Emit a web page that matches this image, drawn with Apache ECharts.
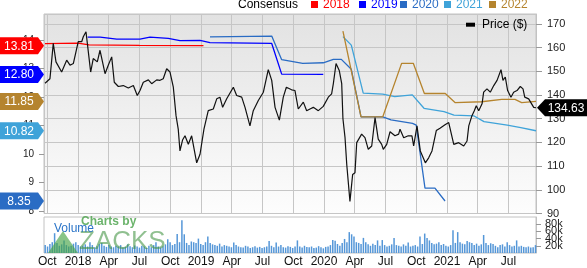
<!DOCTYPE html>
<html><head><meta charset="utf-8">
<script src="https://cdn.jsdelivr.net/npm/echarts/dist/echarts.min.js"></script>
<style>html,body{margin:0;padding:0;background:#fff}#c{width:587px;height:268px}</style>
</head><body><div id="c"></div>
<script>
// time expressed as decimal year
const xMin = 2017.7236, xMax = 2021.7236;
const priceT = [2017.732,2017.772,2017.799,2017.821,2017.867,2017.908,2017.935,2017.962,2018.002,2018.030,2018.043,2018.065,2018.076,2018.103,2018.124,2018.157,2018.179,2018.193,2018.220,2018.246,2018.274,2018.295,2018.328,2018.368,2018.409,2018.450,2018.482,2018.504,2018.531,2018.572,2018.599,2018.640,2018.667,2018.693,2018.721,2018.748,2018.775,2018.797,2018.815,2018.829,2018.850,2018.870,2018.897,2018.924,2018.965,2018.992,2019.024,2019.059,2019.100,2019.128,2019.154,2019.176,2019.209,2019.263,2019.290,2019.331,2019.358,2019.398,2019.425,2019.466,2019.507,2019.547,2019.575,2019.602,2019.637,2019.669,2019.694,2019.737,2019.764,2019.791,2019.832,2019.859,2019.886,2019.913,2019.954,2019.994,2020.035,2020.062,2020.076,2020.098,2020.124,2020.144,2020.154,2020.171,2020.185,2020.211,2020.233,2020.252,2020.266,2020.306,2020.333,2020.360,2020.388,2020.415,2020.441,2020.469,2020.482,2020.510,2020.537,2020.577,2020.607,2020.618,2020.648,2020.685,2020.715,2020.729,2020.756,2020.783,2020.824,2020.851,2020.878,2020.892,2020.913,2020.943,2020.984,2021.014,2021.055,2021.095,2021.136,2021.163,2021.177,2021.203,2021.222,2021.238,2021.258,2021.285,2021.298,2021.325,2021.352,2021.380,2021.407,2021.439,2021.455,2021.474,2021.493,2021.520,2021.542,2021.569,2021.596,2021.618,2021.632,2021.664,2021.705,2021.7236];
const priceV = [145.0,146.9,161.8,154.0,149.7,154.7,152.6,153.3,162.5,162.5,164.6,166.7,161.8,149.7,155.4,154.0,158.9,159.6,149.0,152.6,156.1,145.4,143.6,144.0,143.0,144.0,139.8,141.9,145.4,146.4,144.8,146.4,146.2,146.9,151.1,149.7,143.3,131.3,125.6,116.4,121.0,122.8,119.2,122.8,111.4,115.0,125.6,133.4,134.1,138.4,139.1,134.8,138.4,143.3,139.8,139.1,134.8,127.0,133.4,137.7,141.2,150.7,146.2,134.8,129.4,139.1,143.3,142.2,141.9,134.1,137.0,133.4,134.1,134.8,133.4,135.2,139.1,140.5,144.8,153.3,150.4,144.8,130.0,122.0,110.7,95.1,106.5,107.2,119.9,123.5,122.0,117.1,118.5,130.5,121.4,119.2,117.1,119.2,124.5,122.8,123.5,125.6,122.0,122.8,122.8,118.5,127.0,116.4,111.4,113.5,116.4,117.1,125.0,126.0,127.5,128.4,119.2,119.9,118.5,120.6,127.0,131.3,133.4,135.5,133.4,136.3,141.2,142.6,141.2,144.0,146.2,150.7,146.2,147.6,141.9,139.1,141.2,141.9,143.6,142.6,139.1,138.4,134.8,134.63];

const eps2018T = [2017.732,2018.0,2018.09,2018.5,2019.02];
const eps2018V = [13.88,13.90,13.84,13.82,13.81];
const eps2019T = [2018.079,2018.18,2018.315,2018.504,2018.585,2018.734,2018.829,2018.992,2019.073,2019.575,2019.656,2019.994];
const eps2019V = [14.11,14.11,14.04,14.04,14.11,14.07,13.99,14.00,13.92,13.89,12.81,12.80];
const eps2020T = [2019.073,2019.575,2019.656,2019.827,2019.994,2020.076,2020.141,2020.222,2020.301,2020.478,2020.545,2020.720,2020.750,2020.821,2020.902,2020.984];
const eps2020V = [14.12,14.15,13.32,13.19,13.21,13.33,13.33,12.98,11.31,11.31,11.20,11.08,11.02,8.80,8.80,8.35];
const eps2021T = [2020.154,2020.222,2020.319,2020.478,2020.575,2020.718,2020.813,2020.976,2021.057,2021.220,2021.301,2021.490,2021.600,2021.7236];
const eps2021V = [14.13,13.83,12.14,12.11,12.02,12.08,11.61,11.49,11.37,11.34,11.14,11.02,10.93,10.82];
const eps2022T = [2020.154,2020.301,2020.478,2020.631,2020.726,2020.816,2020.986,2021.065,2021.282,2021.445,2021.553,2021.607,2021.7236];
const eps2022V = [14.32,11.31,11.31,13.19,13.19,12.13,12.13,11.81,11.84,11.92,11.92,11.81,11.85];

// weekly volume (thousands of shares), weeks starting 2017-09-22
const volStart = 2017.7236;
const volK = [
22,18,25,30,55,28,20,24,35,22,18,20,26,30,22,18,
20,24,18,30,22,16,19,25,28,20,17,22,18,
16,20,18,22,15,17,24,19,16,21,18,15,20,
18,14,20,16,22,30,18,15,19,24,38,30,22,
25,53,30,91,52,28,22,32,30,28,40,25,22,
30,46,28,24,22,20,26,18,22,20,18,16,29,
22,18,16,15,20,18,14,16,19,15,17,14,16,
18,33,20,16,29,18,22,16,15,19,17,14,18,
35,18,15,20,17,16,18,14,15,19,16,13,17,
18,22,36,34,25,20,28,39,30,58,52,46,30,
28,25,42,30,24,20,26,22,35,20,36,22,18,
20,24,42,22,20,18,24,20,29,18,20,22,18,
46,25,54,42,35,28,24,26,30,22,25,20,18,
22,63,28,58,30,26,24,33,30,28,22,26,20,
24,50,28,22,27,25,20,16,22,24,18,30,22,
18,20,35,18,20,17,16,18,15,16,22];

const seriesNames = ['2018','2019','2020','2021','2022'];
const seriesColors = ['#ff0000','#0000ff','#2a6cc4','#3fa3d9','#b5842e'];
const lastEps = ['13.81','12.80','8.35','10.82','11.85'];
const lastPrice = 134.63;

const FONT = '"Liberation Sans", Arial, sans-serif';
const zip = (a, b) => a.map((v, i) => [v, b[i]]);
const weekYear = 7 / 365.25;
const volData = volK.map((v, i) => [volStart + (i + 0.5) * weekYear, v * 1000]);

function quarterLabel(v) {
  const y = Math.floor(v + 1e-6);
  const f = Math.round((v - y) * 100);
  if (f === 0) return String(y);
  if (f === 25) return 'Apr';
  if (f === 50) return 'Jul';
  if (f === 75) return 'Oct';
  return '';
}

const chart = echarts.init(document.getElementById('c'), null, {renderer: 'canvas'});
const epsSeries = [
  [eps2018T, eps2018V], [eps2019T, eps2019V], [eps2020T, eps2020V], [eps2021T, eps2021V], [eps2022T, eps2022V]
].map((d, i) => ({
  name: seriesNames[i], type: 'line', xAxisIndex: 0, yAxisIndex: 1,
  data: zip(d[0], d[1]), symbol: 'none', z: 3,
  lineStyle: {color: seriesColors[i], width: 1.3}, animation: false
}));

chart.setOption({
  animation: false,
  textStyle: {fontFamily: FONT},
  grid: [
    {left: 44, right: 51, top: 14, height: 199.5, show: true, borderColor: '#c2c2c2', borderWidth: 1,
     backgroundColor: {type: 'linear', x: 0, y: 0, x2: 0, y2: 1, colorStops: [{offset: 0, color: '#e2e2e2'}, {offset: 1, color: '#fdfdfd'}]}},
    {left: 44, right: 51, top: 217, height: 36.5, show: true, borderColor: '#c2c2c2', borderWidth: 1, backgroundColor: '#ffffff'}
  ],
  xAxis: [
    {gridIndex: 0, type: 'value', min: xMin, max: xMax, splitNumber: 16, minInterval: 0.25, maxInterval: 0.25,
     axisLine: {show: false}, axisTick: {show: false}, axisLabel: {show: false},
     splitLine: {show: true, lineStyle: {color: '#c6c6c6', width: 1}}},
    {gridIndex: 1, type: 'value', min: xMin, max: xMax, splitNumber: 16, minInterval: 0.25, maxInterval: 0.25,
     axisLine: {show: false}, axisTick: {show: false}, splitLine: {show: false},
     axisLabel: {show: true, interval: 0, showMinLabel: false, showMaxLabel: false, formatter: quarterLabel,
                 color: '#111', fontSize: 12, margin: 3, fontFamily: FONT}}
  ],
  yAxis: [
    {gridIndex: 0, type: 'value', position: 'right', min: 90, max: 174.2, interval: 10,
     axisLine: {show: true, lineStyle: {color: '#c2c2c2'}},
     axisTick: {show: true, length: 6, lineStyle: {color: '#999'}},
     axisLabel: {showMaxLabel: false, color: '#222', fontSize: 11, margin: 11, fontFamily: FONT},
     splitLine: {show: true, lineStyle: {color: '#c6c6c6'}}},
    {gridIndex: 0, type: 'value', position: 'left', min: 7.91, max: 14.925, splitNumber: 7, minInterval: 1, maxInterval: 1,
     axisLine: {show: false}, axisTick: {show: true, length: 5, lineStyle: {color: '#999'}},
     axisLabel: {showMinLabel: false, showMaxLabel: false, color: '#222', fontSize: 10, margin: 10, fontFamily: FONT},
     splitLine: {show: false}},
    {gridIndex: 1, type: 'value', position: 'right', min: 0, max: 100000, interval: 20000,
     axisLine: {show: true, lineStyle: {color: '#c2c2c2'}},
     axisTick: {show: true, length: 5, lineStyle: {color: '#999'}},
     axisLabel: {showMaxLabel: false, color: '#222', fontSize: 11, margin: 9, fontFamily: FONT,
                 formatter: v => v === 0 ? '0' : (v / 1000) + 'k'},
     splitLine: {show: false}}
  ],
  series: [
    ...epsSeries,
    {name: 'Price', type: 'line', xAxisIndex: 0, yAxisIndex: 0, data: zip(priceT, priceV), symbol: 'none', z: 4,
     lineStyle: {color: '#111', width: 1.2}},
    {name: 'Volume', type: 'bar', xAxisIndex: 1, yAxisIndex: 2, data: volData, barWidth: 1.5,
     itemStyle: {color: '#5597d8'}, z: 2}
  ]
});

// tags and legend drawn through the axes' scales
const g = [];
const txt = (text, x, y, fill, size, align, extra) => ({type: 'text', z: 100, silent: true,
  style: Object.assign({text, x, y, fill, font: size + 'px ' + FONT, align: align || 'left', verticalAlign: 'middle'}, extra || {})});
const finalsEps = [eps2018V, eps2019V, eps2020V, eps2021V, eps2022V].map(a => a[a.length - 1]);
finalsEps.forEach((v, i) => {
  const y = chart.convertToPixel({yAxisIndex: 1}, v);
  g.push({type: 'polygon', z: 99, silent: true, shape: {points: [[0, y - 8.5], [38, y - 8.5], [44, y], [38, y + 8.5], [0, y + 8.5]]},
          style: {fill: seriesColors[i]}});
  g.push(txt(lastEps[i], 19, y + 0.5, '#fff', 12, 'center'));
});
const py = chart.convertToPixel({yAxisIndex: 0}, lastPrice);
g.push({type: 'polygon', z: 99, silent: true, shape: {points: [[537, py], [545, py - 8.5], [587, py - 8.5], [587, py + 8.5], [545, py + 8.5]]}, style: {fill: '#000'}});
g.push(txt(lastPrice.toFixed(2), 566, py + 0.5, '#fff', 12, 'center'));

// legend
g.push(txt('Consensus', 238, 4.5, '#000', 12));
const legX = [311, 359, 400, 444, 489];
seriesNames.forEach((n, i) => {
  g.push({type: 'rect', z: 100, silent: true, shape: {x: legX[i], y: 1, width: 7, height: 7}, style: {fill: seriesColors[i]}});
  g.push(txt(n, legX[i] + 12, 4.5, seriesColors[i], 12));
});
g.push({type: 'rect', z: 100, silent: true, shape: {x: 466, y: 22.7, width: 9, height: 4}, style: {fill: '#000'}});
g.push(txt('Price ($)', 482, 25, '#000', 12));

// watermark + volume label
g.push({type: 'polygon', z: 98, silent: true, shape: {points: [[48, 253], [63, 231], [78, 253]]}, style: {fill: 'rgba(70,165,70,0.65)'}});
g.push(txt('Charts by', 81, 222, 'rgba(70,160,70,0.8)', 12, 'left', {fontWeight: 'bold'}));
g.push(txt('ZACKS', 79, 242, 'rgba(70,150,70,0.6)', 26));
g.push(txt('Volume', 54, 229, '#2a74c8', 12));

chart.setOption({graphic: g});
</script>
</body></html>
